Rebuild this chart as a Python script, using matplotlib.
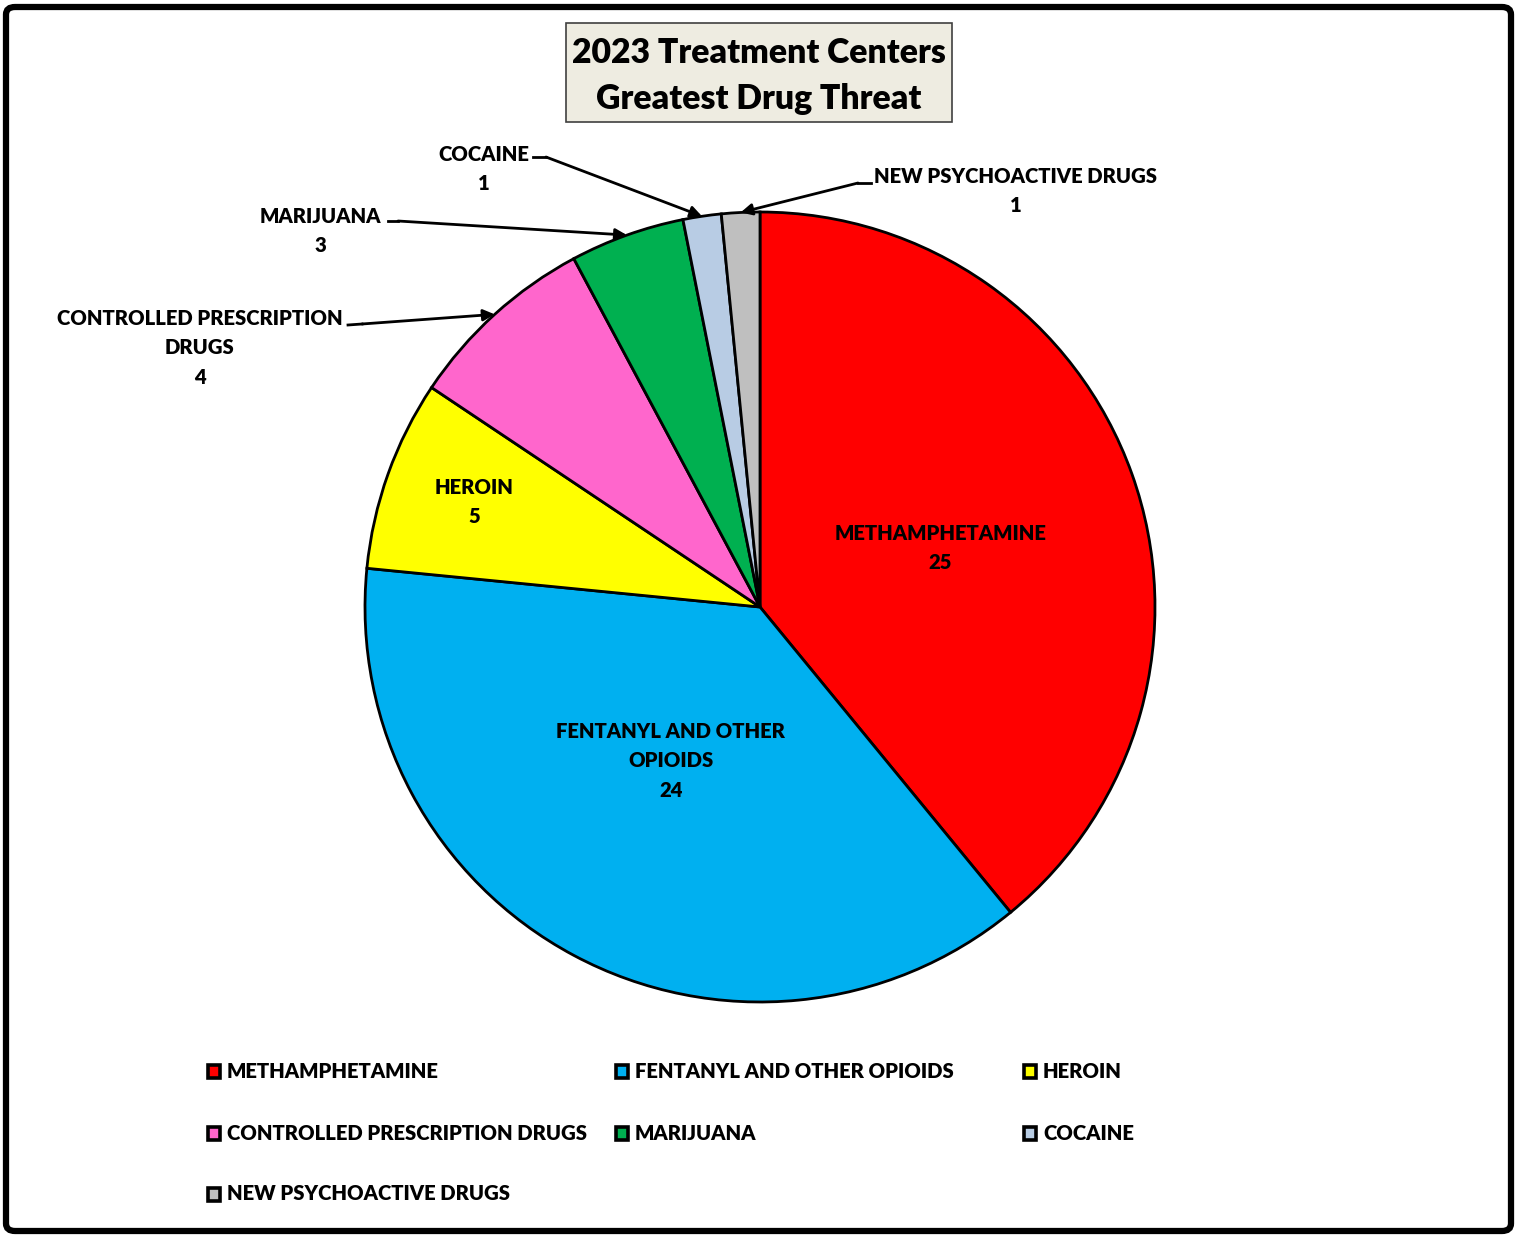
import numpy as np
import matplotlib.pyplot as plt
from matplotlib.patches import FancyBboxPatch, Rectangle

W, H = 1516, 1239

drugs = ['METHAMPHETAMINE', 'FENTANYL AND OTHER OPIOIDS', 'HEROIN',
         'CONTROLLED PRESCRIPTION DRUGS', 'MARIJUANA', 'COCAINE',
         'NEW PSYCHOACTIVE DRUGS']
slice_text = ['METHAMPHETAMINE', 'FENTANYL AND OTHER\nOPIOIDS', 'HEROIN',
              'CONTROLLED PRESCRIPTION\nDRUGS', 'MARIJUANA', 'COCAINE',
              'NEW PSYCHOACTIVE DRUGS']
# numbers printed on the chart
counts = [25, 24, 5, 4, 3, 1, 1]
# slice sizes as drawn in the original (the prescription slice is drawn as 5)
sizes = [25, 24, 5, 5, 3, 1, 1]
colors = ['#FF0000', '#00B0F0', '#FFFF00', '#FF66CC', '#00B050', '#B8CCE4', '#BFBFBF']
title = '2023 Treatment Centers\nGreatest Drug Threat'

plt.rcParams['font.family'] = ['Lato', 'DejaVu Sans']
FS = 14.6

fig = plt.figure(figsize=(W / 100, H / 100), dpi=100)
ax = fig.add_axes([0, 0, 1, 1])

cx, cy, r = 760, H - 607, 395
wedges, _ = ax.pie(sizes, colors=colors, startangle=90, counterclock=False,
                   center=(cx, cy), radius=r, frame=True,
                   wedgeprops=dict(edgecolor='black', linewidth=2.0))
ax.set_xlim(0, W)
ax.set_ylim(0, H)
ax.set_aspect('equal')
ax.axis('off')


def mid_point(w, frac, turn=0.0):
    a = np.deg2rad((w.theta1 + w.theta2) / 2 + turn)
    return cx + frac * r * np.cos(a), cy + frac * r * np.sin(a)


# labels inside the big slices (distance as fraction of radius, small angle nudge)
inside = {0: (0.48, -1.5), 1: (0.45, -2.0), 2: (0.77, -0.5)}
for i, (frac, turn) in inside.items():
    x, y = mid_point(wedges[i], frac, turn)
    ax.text(x, y, slice_text[i] + '\n' + str(counts[i]), ha='center', va='center',
            fontsize=FS, fontweight='heavy', linespacing=1.65)

# labels outside with leader lines (text centre, line start, elbow) in image px
outside = {
    3: ((200, 348), (348, 325), (362, 324)),
    4: ((320, 231), (388, 221), (398, 221)),
    5: ((484, 169), (533, 157), (546, 157)),
    6: ((1016, 191), (871, 183), (858, 183)),
}
for i, (tpos, start, elbow) in outside.items():
    ax.text(tpos[0], H - tpos[1], slice_text[i] + '\n' + str(counts[i]), ha='center',
            va='center', fontsize=FS, fontweight='heavy', linespacing=1.65)
    tip = mid_point(wedges[i], 1.0)
    ax.plot([start[0], elbow[0]], [H - start[1], H - elbow[1]], color='black', lw=2.0)
    ax.annotate('', xy=tip, xytext=(elbow[0], H - elbow[1]),
                arrowprops=dict(arrowstyle='-|>', color='black', lw=2.0,
                                mutation_scale=17, shrinkA=0, shrinkB=0))

# title box
ax.add_patch(Rectangle((566, H - 122), 386, 99, facecolor='#EEECE1',
                       edgecolor='#404040', linewidth=1.2))
ax.text(759, H - 76, title, ha='center', va='center', fontsize=24.3,
        fontweight='heavy', linespacing=1.55)

# legend, filled row by row like the original
col_x = [207, 615, 1023]
row_y = [1071, 1133, 1194]
for k, name in enumerate(drugs):
    x = col_x[k % 3]
    y = H - row_y[k // 3]
    ax.add_patch(Rectangle((x + 1, y - 6.5), 12, 13, facecolor=colors[k],
                           edgecolor='black', linewidth=2.6))
    ax.text(x + 20, y, name, ha='left', va='center', fontsize=FS, fontweight='heavy')

# outer frame
fig.patches.append(FancyBboxPatch((6 / W, 8 / H), 1505 / W, 1224 / H,
                                  boxstyle='round,pad=0,rounding_size=0.006',
                                  transform=fig.transFigure, fill=False,
                                  edgecolor='black', linewidth=4.5))

fig.savefig('out.png', dpi=100, facecolor='white')
